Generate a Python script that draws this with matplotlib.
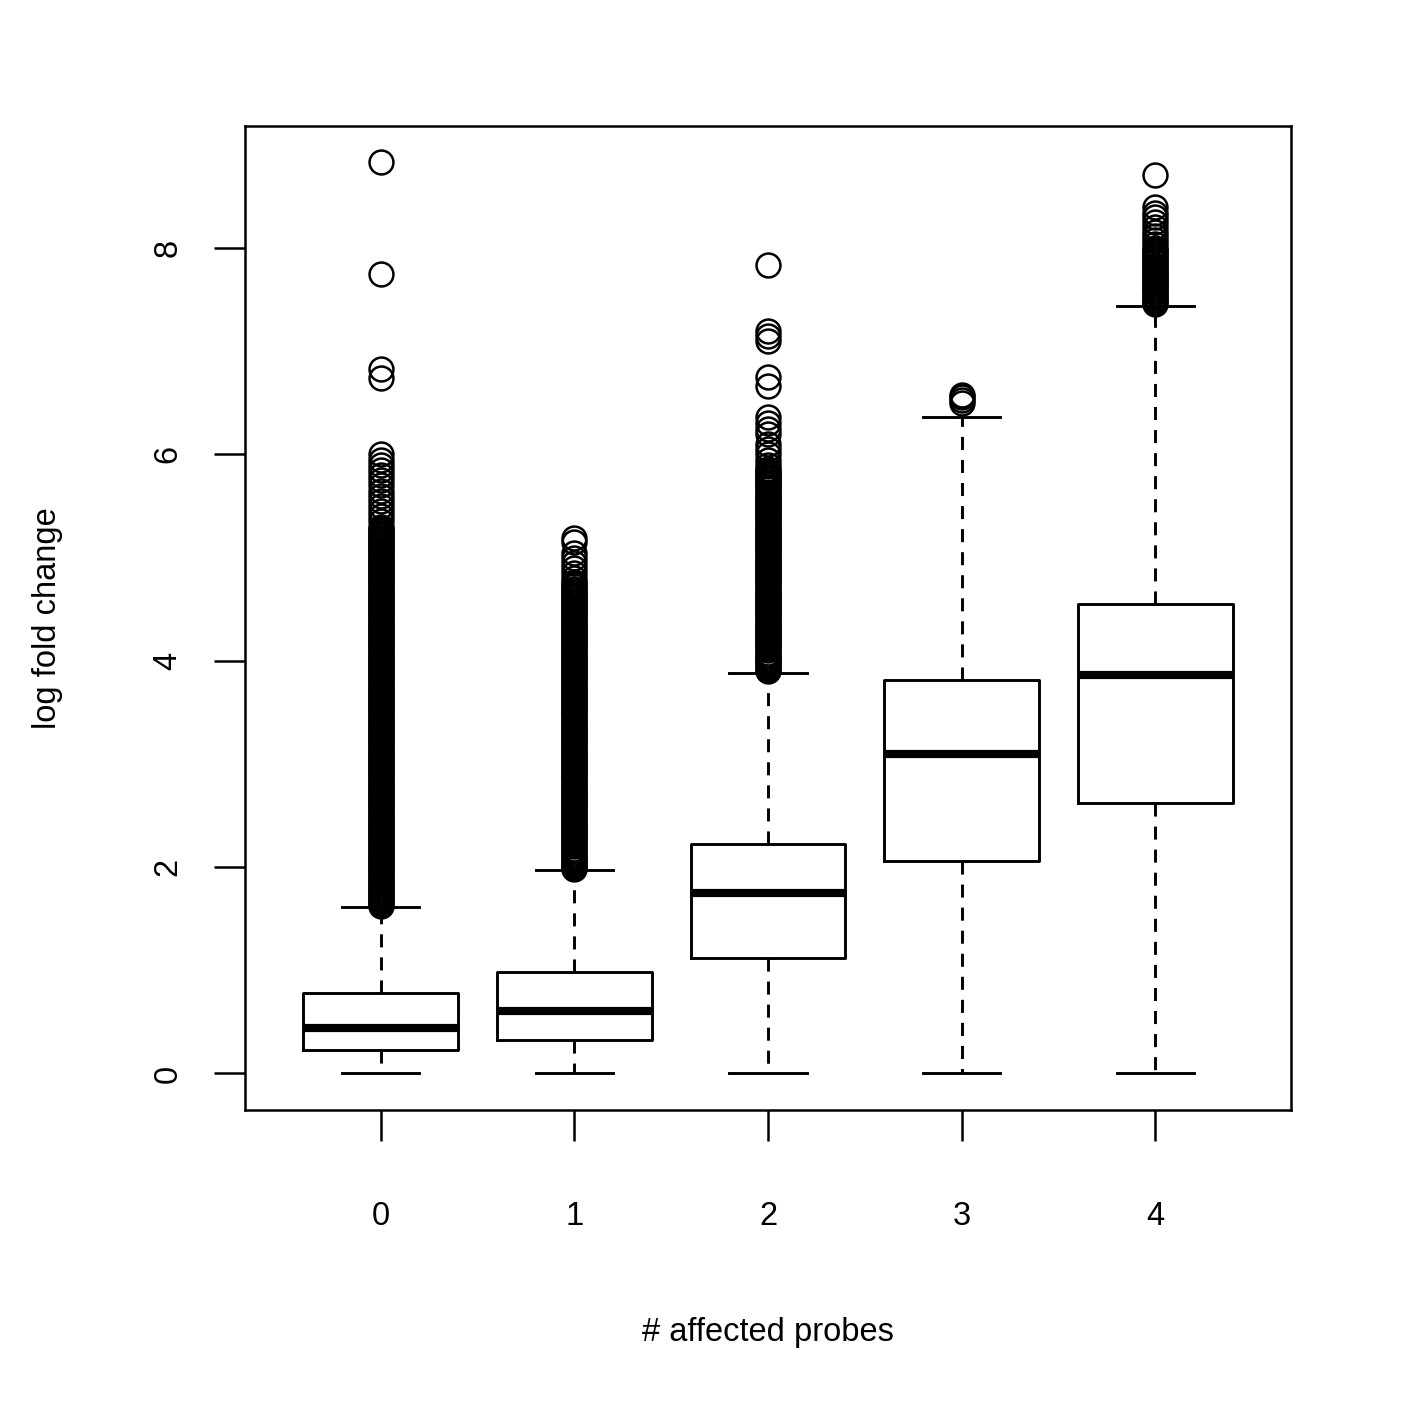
import matplotlib
matplotlib.use("Agg")
import matplotlib.pyplot as plt
import numpy as np

plt.rcParams["font.family"] = ["Liberation Sans", "DejaVu Sans"]
plt.rcParams["lines.scale_dashes"] = False

# group labels on the x axis
groups = ["0", "1", "2", "3", "4"]

# box statistics (log fold change)
whis_lo = [0.0, 0.0, 0.0, 0.0, 0.0]
q1 = [0.23, 0.32, 1.12, 2.06, 2.62]
med = [0.445, 0.61, 1.75, 3.10, 3.86]
q3 = [0.78, 0.98, 2.22, 3.81, 4.55]
whis_hi = [1.61, 1.97, 3.88, 6.36, 7.44]

# outliers; the solid black runs are read as tightly packed points
fliers_0 = [
    1.62, 1.64, 1.66, 1.68, 1.70, 1.72, 1.74, 1.76, 1.78, 1.80,
    1.82, 1.84, 1.86, 1.88, 1.90, 1.92, 1.94, 1.96, 1.98, 2.00,
    2.02, 2.04, 2.06, 2.08, 2.10, 2.12, 2.14, 2.16, 2.18, 2.20,
    2.22, 2.24, 2.26, 2.28, 2.30, 2.32, 2.34, 2.36, 2.38, 2.40,
    2.42, 2.44, 2.46, 2.48, 2.50, 2.52, 2.54, 2.56, 2.58, 2.60,
    2.62, 2.64, 2.66, 2.68, 2.70, 2.72, 2.74, 2.76, 2.78, 2.80,
    2.82, 2.84, 2.86, 2.88, 2.90, 2.92, 2.94, 2.96, 2.98, 3.00,
    3.02, 3.04, 3.06, 3.08, 3.10, 3.12, 3.14, 3.16, 3.18, 3.20,
    3.22, 3.24, 3.26, 3.28, 3.30, 3.32, 3.34, 3.36, 3.38, 3.40,
    3.42, 3.44, 3.46, 3.48, 3.50, 3.52, 3.54, 3.56, 3.58, 3.60,
    3.62, 3.64, 3.66, 3.68, 3.70, 3.72, 3.74, 3.76, 3.78, 3.80,
    3.82, 3.84, 3.86, 3.88, 3.90, 3.92, 3.94, 3.96, 3.98, 4.00,
    4.02, 4.04, 4.06, 4.08, 4.10, 4.12, 4.14, 4.16, 4.18, 4.20,
    4.22, 4.24, 4.26, 4.28, 4.30, 4.32, 4.34, 4.36, 4.38, 4.40,
    4.42, 4.44, 4.46, 4.48, 4.50, 4.52, 4.54, 4.56, 4.58, 4.60,
    4.62, 4.64, 4.66, 4.68, 4.70, 4.72, 4.74, 4.76, 4.78, 4.80,
    4.82, 4.84, 4.86, 4.88, 4.90, 4.92, 4.94, 4.96, 4.98, 5.00,
    5.02, 5.04, 5.06, 5.08, 5.10, 5.12, 5.14, 5.16, 5.18, 5.20,
    5.22, 5.24, 5.26, 5.28, 5.30,
    5.35, 5.40, 5.45, 5.50, 5.55, 5.60, 5.65, 5.70, 5.75, 5.80,
    5.85, 5.90, 5.95, 6.00, 6.74, 6.83, 7.75, 8.83,
]
fliers_1 = [
    1.98, 2.00,
    2.02, 2.04, 2.06, 2.08, 2.10, 2.12, 2.14, 2.16, 2.18, 2.20,
    2.22, 2.24, 2.26, 2.28, 2.30, 2.32, 2.34, 2.36, 2.38, 2.40,
    2.42, 2.44, 2.46, 2.48, 2.50, 2.52, 2.54, 2.56, 2.58, 2.60,
    2.62, 2.64, 2.66, 2.68, 2.70, 2.72, 2.74, 2.76, 2.78, 2.80,
    2.82, 2.84, 2.86, 2.88, 2.90, 2.92, 2.94, 2.96, 2.98, 3.00,
    3.02, 3.04, 3.06, 3.08, 3.10, 3.12, 3.14, 3.16, 3.18, 3.20,
    3.22, 3.24, 3.26, 3.28, 3.30, 3.32, 3.34, 3.36, 3.38, 3.40,
    3.42, 3.44, 3.46, 3.48, 3.50, 3.52, 3.54, 3.56, 3.58, 3.60,
    3.62, 3.64, 3.66, 3.68, 3.70, 3.72, 3.74, 3.76, 3.78, 3.80,
    3.82, 3.84, 3.86, 3.88, 3.90, 3.92, 3.94, 3.96, 3.98, 4.00,
    4.02, 4.04, 4.06, 4.08, 4.10, 4.12, 4.14, 4.16, 4.18, 4.20,
    4.22, 4.24, 4.26, 4.28, 4.30, 4.32, 4.34, 4.36, 4.38, 4.40,
    4.42, 4.44, 4.46, 4.48, 4.50, 4.52, 4.54, 4.56, 4.58, 4.60,
    4.62, 4.64, 4.66, 4.68, 4.70, 4.72, 4.74, 4.76,
    4.80, 4.85, 4.90, 4.95, 5.00, 5.04, 5.15, 5.19,
]
fliers_2 = [
    3.90, 3.92, 3.94, 3.96, 3.98, 4.00,
    4.02, 4.04, 4.06, 4.08, 4.10, 4.12, 4.14, 4.16, 4.18, 4.20,
    4.22, 4.24, 4.26, 4.28, 4.30, 4.32, 4.34, 4.36, 4.38, 4.40,
    4.42, 4.44, 4.46, 4.48, 4.50, 4.52, 4.54, 4.56, 4.58, 4.60,
    4.62, 4.64, 4.66, 4.68, 4.70, 4.72, 4.74, 4.76, 4.78, 4.80,
    4.82, 4.84, 4.86, 4.88, 4.90, 4.92, 4.94, 4.96, 4.98, 5.00,
    5.02, 5.04, 5.06, 5.08, 5.10, 5.12, 5.14, 5.16, 5.18, 5.20,
    5.22, 5.24, 5.26, 5.28, 5.30, 5.32, 5.34, 5.36, 5.38, 5.40,
    5.42, 5.44, 5.46, 5.48, 5.50, 5.52, 5.54, 5.56, 5.58, 5.60,
    5.62, 5.64, 5.66, 5.68, 5.70, 5.72, 5.74, 5.76, 5.78, 5.80,
    5.82, 5.84, 5.86,
    5.90, 5.95, 6.00, 6.05, 6.10, 6.20, 6.25, 6.30, 6.36,
    6.66, 6.75, 7.10, 7.15, 7.20, 7.84,
]
fliers_3 = [6.50, 6.53, 6.56, 6.58]
fliers_4 = [
    7.46, 7.48, 7.50, 7.52, 7.54, 7.56, 7.58, 7.60,
    7.62, 7.64, 7.66, 7.68, 7.70, 7.72, 7.74, 7.76, 7.78, 7.80,
    7.82, 7.84, 7.86, 7.88, 7.90, 7.92, 7.94, 7.96, 7.98, 8.00,
    8.04, 8.08, 8.12, 8.16, 8.20, 8.25, 8.30, 8.34, 8.40, 8.71,
]
fliers = [fliers_0, fliers_1, fliers_2, fliers_3, fliers_4]

stats = []
for i, g in enumerate(groups):
    stats.append(dict(label=g, whislo=whis_lo[i], q1=q1[i], med=med[i],
                      q3=q3[i], whishi=whis_hi[i], fliers=np.array(fliers[i])))

fig = plt.figure(figsize=(14.17, 14.17), dpi=100)
ax = fig.add_axes([0.1729, 0.2167, 0.9111 - 0.1729, 0.9111 - 0.2167])

lw = 2.1
pos = np.arange(1, len(groups) + 1)
ax.bxp(stats, positions=pos, widths=0.8, capwidths=0.4,
       boxprops=dict(color="black", linewidth=lw),
       whiskerprops=dict(color="black", linewidth=lw, linestyle=(0, (9.4, 7.2))),
       capprops=dict(color="black", linewidth=lw),
       medianprops=dict(color="black", linewidth=5.9, solid_capstyle="butt"),
       flierprops=dict(marker="o", markerfacecolor="none", markeredgecolor="black",
                       markersize=17.2, markeredgewidth=1.8, linestyle="none"))

allv = np.concatenate([np.array(f) for f in fliers] + [np.array(whis_lo)])
lo, hi = allv.min(), allv.max()
pad = 0.04 * (hi - lo)
ax.set_ylim(lo - pad, hi + pad)
ax.set_xlim(0.3, len(groups) + 0.7)

ax.set_xticks(pos)
ax.set_xticklabels(groups)
ax.set_yticks([0, 2, 4, 6, 8])
ax.set_yticklabels(["0", "2", "4", "6", "8"])
ax.tick_params(axis="both", length=22.3, width=1.8, labelsize=23.5)
ax.tick_params(axis="x", pad=43)
ax.tick_params(axis="y", pad=22, labelrotation=90)
for t in ax.get_yticklabels():
    t.set_va("center")
for s in ax.spines.values():
    s.set_linewidth(1.8)

fig.text(768 / 1417, 1 - 1333 / 1417, "# affected probes", ha="center", va="center", fontsize=23.5)
fig.text(48 / 1417, 1 - 618 / 1417, "log fold change", ha="center", va="center",
         rotation=90, fontsize=23.5)

fig.savefig("out.png", dpi=100)
